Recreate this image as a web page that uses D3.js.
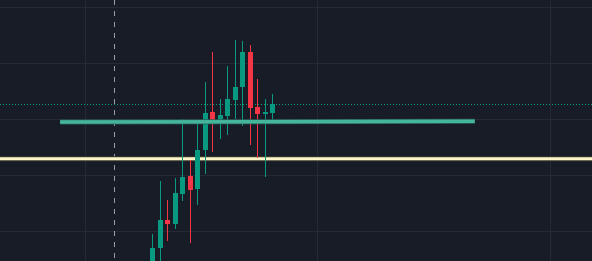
<!DOCTYPE html>
<html>
<head>
<meta charset="utf-8">
<script src="https://cdn.jsdelivr.net/npm/d3@7"></script>
<style>
  html, body { margin: 0; padding: 0; background: #181c27; overflow: hidden; }
  svg { display: block; }
</style>
</head>
<body>
<svg id="chart"></svg>
<script>
// bar index of each candle
const bars = d3.range(17);
const opens  = [101.670, 101.848, 102.098, 102.063, 102.330, 102.491, 102.375, 102.723, 103.063, 102.973, 103.027, 103.170, 103.286, 103.598, 103.107, 103.045, 103.054];
const highs  = [101.973, 102.446, 102.277, 102.473, 103.000, 102.634, 102.973, 103.330, 103.598, 103.179, 103.473, 103.705, 103.696, 103.661, 103.357, 103.179, 103.223];
const lows   = [101.563, 101.652, 101.913, 102.018, 102.268, 101.893, 102.232, 102.509, 102.705, 102.821, 102.857, 103.000, 102.938, 102.768, 102.652, 102.482, 102.955];
const closes = [101.848, 102.098, 102.063, 102.339, 102.482, 102.366, 102.723, 103.054, 102.964, 103.036, 103.179, 103.286, 103.598, 103.098, 103.045, 103.063, 103.134];

// grid
const priceTicks = [104.0, 103.5, 103.0, 102.5, 102.0];
const timeTicks = [-9, 22, 53];

// drawings
const markerBar = -5;                       // dashed vertical line
const trendLine = [[-12.3, 102.973], [43.0, 102.979]];
const levelPrice = 102.645;                 // cream horizontal level

const width = 592, height = 261;
const svg = d3.select('#chart').attr('width', width).attr('height', height);

const x = d3.scaleLinear()
  .domain([-20.31, 58.63])
  .range([0, width]);
const y = d3.scaleLinear()
  .domain([104.0625, 101.7321])
  .range([0, height]);

svg.append('rect')
  .attr('width', width).attr('height', height)
  .attr('fill', '#181c27');

// grid via axes
const grid = svg.append('g').attr('class', 'grid');
grid.append('g')
  .call(d3.axisLeft(y).tickValues(priceTicks).tickSize(-width).tickFormat(''))
  .call(g => g.select('.domain').remove())
  .call(g => g.selectAll('line').attr('stroke', '#262a35').attr('shape-rendering', 'crispEdges'));
grid.append('g')
  .attr('transform', `translate(0,${height})`)
  .call(d3.axisBottom(x).tickValues(timeTicks).tickSize(-height).tickFormat(''))
  .call(g => g.select('.domain').remove())
  .call(g => g.selectAll('line').attr('stroke', '#262a35').attr('shape-rendering', 'crispEdges'));

// dashed vertical line
svg.append('line')
  .attr('x1', x(markerBar)).attr('x2', x(markerBar))
  .attr('y1', 0).attr('y2', height)
  .attr('stroke', '#9a9ea8')
  .attr('stroke-width', 1)
  .attr('stroke-dasharray', '5,6')
  .attr('shape-rendering', 'crispEdges');

// last price dotted line
svg.append('line')
  .attr('x1', 0).attr('x2', width)
  .attr('y1', Math.round(y(closes[closes.length - 1])) + 0.5)
  .attr('y2', Math.round(y(closes[closes.length - 1])) + 0.5)
  .attr('stroke', '#089981')
  .attr('stroke-width', 1)
  .attr('stroke-dasharray', '1,2');

// cream level
svg.append('line')
  .attr('x1', 0).attr('x2', width)
  .attr('y1', y(levelPrice)).attr('y2', y(levelPrice))
  .attr('stroke', '#3a3a30')
  .attr('stroke-width', 5);
svg.append('line')
  .attr('x1', 0).attr('x2', width)
  .attr('y1', y(levelPrice)).attr('y2', y(levelPrice))
  .attr('stroke', '#fff5c8')
  .attr('stroke-width', 3);

// candles
const bodyW = 5;
const candles = svg.append('g').attr('class', 'candles')
  .selectAll('g')
  .data(bars)
  .join('g')
  .attr('fill', i => closes[i] >= opens[i] ? '#089981' : '#f23645')
  .attr('stroke', i => closes[i] >= opens[i] ? '#089981' : '#f23645');

candles.append('line')
  .attr('x1', i => Math.round(x(i)) + 0.5)
  .attr('x2', i => Math.round(x(i)) + 0.5)
  .attr('y1', i => y(highs[i]))
  .attr('y2', i => y(lows[i]))
  .attr('stroke-width', 1)
  .attr('shape-rendering', 'crispEdges');

candles.append('rect')
  .attr('x', i => Math.round(x(i)) + 0.5 - bodyW / 2)
  .attr('y', i => y(Math.max(opens[i], closes[i])))
  .attr('width', bodyW)
  .attr('height', i => Math.max(1, y(Math.min(opens[i], closes[i])) - y(Math.max(opens[i], closes[i]))))
  .attr('stroke', 'none')
  .attr('shape-rendering', 'crispEdges');

// trend line drawn on top
const line = d3.line().x(d => x(d[0])).y(d => y(d[1]));
svg.append('path')
  .datum(trendLine)
  .attr('d', line)
  .attr('fill', 'none')
  .attr('stroke', '#2a5f57')
  .attr('stroke-width', 5);
svg.append('path')
  .datum(trendLine)
  .attr('d', line)
  .attr('fill', 'none')
  .attr('stroke', '#45b69c')
  .attr('stroke-width', 3.5);
</script>
</body>
</html>
